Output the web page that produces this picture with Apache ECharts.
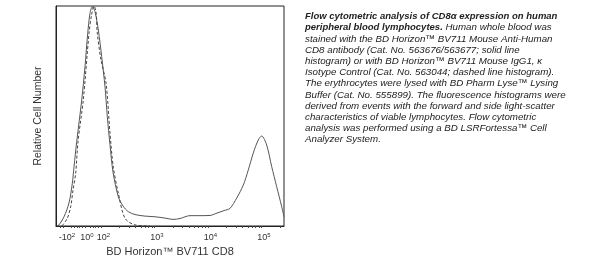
<!DOCTYPE html>
<html>
<head>
<meta charset="utf-8">
<script src="https://cdn.jsdelivr.net/npm/echarts@6/dist/echarts.min.js"></script>
<style>
html,body{margin:0;padding:0;background:#fff;}
#chart{width:599px;height:263px;}
</style>
</head>
<body>
<div id="chart"></div>
<script>
// x values are display positions in "decade" units (biexponential-like display scale)
var solidX = [1.131,1.168,1.262,1.355,1.417,1.449,1.499,1.593,1.654,1.705,1.748,1.791,1.841,1.903,1.966,2.028,2.071,2.121,2.178,2.277,2.364,2.464,2.589,2.776,2.963,3.150,3.299,3.430,3.617,3.804,3.991,4.103,4.252,4.364,4.490,4.613,4.707,4.800,4.893,4.957,5.050,5.144,5.237,5.331,5.374];
var solidY = [0.2,0.5,4.2,10.5,19.4,27,38.3,57.3,72.4,87.6,96.7,99.7,97.4,89.1,77,63.3,49.7,37,24.5,13.3,9.1,6.5,5.2,4.5,4.2,3.6,3.0,3.4,4.7,4.7,4.8,5.7,7.0,8.0,12.7,18.6,25.5,33.2,39.1,40.9,36.8,27,17.9,8.8,4.2];
var dashedX = [1.224,1.323,1.387,1.430,1.480,1.523,1.622,1.729,1.776,1.822,1.860,1.884,1.953,2.047,2.121,2.183,2.277,2.402,2.589,2.869];
var dashedY = [0,3.5,8.8,16.4,24,38.3,57.3,87.6,95.9,100,97.3,87.7,75.5,65,42.3,26.8,14.9,3.5,0.5,0];
var tickPos = [1.318,1.692,2,3,4,5];
var tickBase = ['-10','10','10','10','10','10'];
var tickExp = ['2','0','2','3','4','5'];
var xMin = 1.112, xMax = 5.374;
var xTitle = 'BD Horizon™ BV711 CD8';
var yTitle = 'Relative Cell Number';
var captionLines = [
  [['b','Flow cytometric analysis of CD8α expression on human']],
  [['b','peripheral blood lymphocytes.'],['i',' Human whole blood was']],
  [['i','stained with the BD Horizon™ BV711 Mouse Anti-Human']],
  [['i','CD8 antibody (Cat. No. 563676/563677; solid line']],
  [['i','histogram) or with BD Horizon™ BV711 Mouse IgG1, κ']],
  [['i','Isotype Control (Cat. No. 563044; dashed line histogram).']],
  [['i','The erythrocytes were lysed with BD Pharm Lyse™ Lysing']],
  [['i','Buffer (Cat. No. 555899). The fluorescence histograms were']],
  [['i','derived from events with the forward and side light-scatter']],
  [['i','characteristics of viable lymphocytes. Flow cytometric']],
  [['i','analysis was performed using a BD LSRFortessa™ Cell']],
  [['i','Analyzer System.']]
];

var minorTicks = [];
[2,3,4,5].forEach(function(d){
  for (var k=2;k<=9;k++){ var v=d+Math.log10(k); if (v<xMax) minorTicks.push(+v.toFixed(4)); }
});
[1.2,1.25,1.4,1.45,1.5,1.55,1.6,1.65,1.75,1.8,1.85,1.9,1.95].forEach(function(v){minorTicks.push(v);});

function zip(a,b){return a.map(function(v,i){return [v,b[i]];});}

var chart = echarts.init(document.getElementById('chart'), null, {renderer:'canvas'});
var font = 'Liberation Sans, Arial, sans-serif';

var graphics = captionLines.map(function(line, i){
  var txt = line.map(function(seg){ return '{'+seg[0]+'|'+seg[1]+'}'; }).join('');
  return {
    type:'text', left:305, top: 11.5 + i*11.2,
    style:{
      text: txt, fill:'#222', font: 'italic 9.75px '+font,
      rich:{
        b:{fontFamily:font,fontSize:9.5,fontStyle:'italic',fontWeight:'bold',fill:'#222'},
        i:{fontFamily:font,fontSize:9.75,fontStyle:'italic',fill:'#222'}
      }
    }
  };
});

chart.setOption({
  animation:false,
  backgroundColor:'#fff',
  grid:{left:56,right:315,top:6,bottom:37,show:true,borderColor:'#222',borderWidth:1,backgroundColor:'transparent'},
  xAxis:{
    type:'value', min:xMin, max:xMax,
    name:xTitle, nameLocation:'middle', nameGap:13,
    nameTextStyle:{fontFamily:font,fontSize:11,color:'#333'},
    axisLine:{show:true,lineStyle:{color:'#222',width:1}},
    splitLine:{show:false},
    axisTick:{show:true,customValues:minorTicks,length:2,lineStyle:{color:'#444'}},
    axisLabel:{
      customValues:tickPos, margin:6, showMinLabel:true, showMaxLabel:true,
      formatter:function(v){
        var i = -1;
        for (var j=0;j<tickPos.length;j++){ if (Math.abs(tickPos[j]-v)<1e-6) i=j; }
        if (i<0) return '';
        return '{b|'+tickBase[i]+'}{s|'+tickExp[i]+'}';
      },
      rich:{
        b:{fontFamily:font,fontSize:9,color:'#333'},
        s:{fontFamily:font,fontSize:6,color:'#333',verticalAlign:'top',padding:[0,0,5,0]}
      }
    }
  },
  yAxis:{
    type:'value', min:0, max:100,
    name:yTitle, nameLocation:'middle', nameGap:12, nameRotate:90,
    nameTextStyle:{fontFamily:font,fontSize:10.5,color:'#333'},
    axisLine:{show:true,lineStyle:{color:'#222',width:1}},
    axisTick:{show:false}, axisLabel:{show:false}, splitLine:{show:false}
  },
  series:[
    {type:'line',data:zip(solidX,solidY),smooth:0.3,symbol:'none',
     lineStyle:{color:'#555',width:1}},
    {type:'line',data:zip(dashedX,dashedY),smooth:0.3,symbol:'none',
     lineStyle:{color:'#444',width:1,type:[3,2]}}
  ],
  graphic:graphics
});
</script>
</body>
</html>
